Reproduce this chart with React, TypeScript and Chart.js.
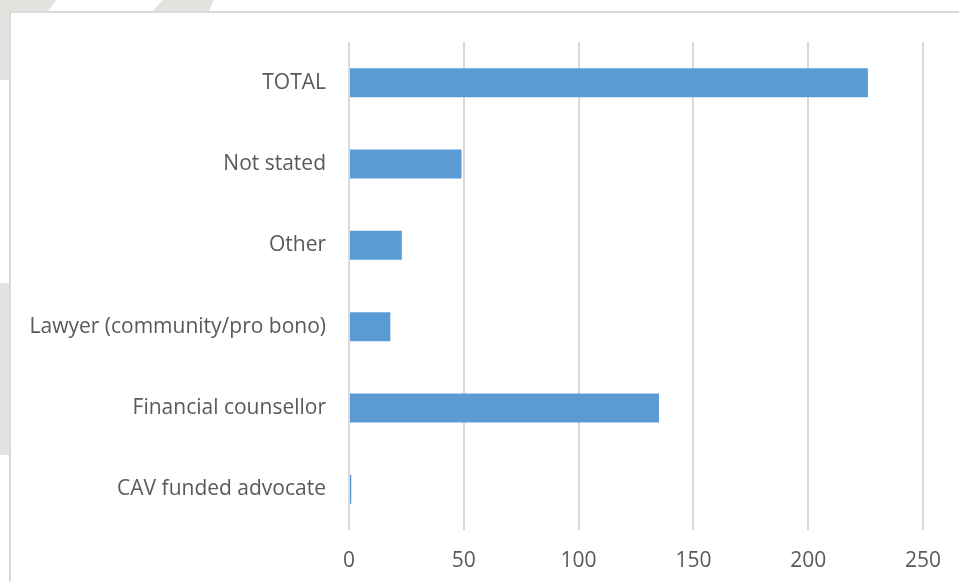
import React, { useEffect, useRef } from "react";
import { Chart, registerables } from "chart.js";

Chart.register(...registerables);

const categories = [
  "TOTAL",
  "Not stated",
  "Other",
  "Lawyer (community/pro bono)",
  "Financial counsellor",
  "CAV funded advocate",
];
const values = [226, 49, 23, 18, 135, 1];
const xTickMin = 0;
const xTickMax = 250;
const xTickStep = 50;

const WM = "#e2e2de";

export default function App() {
  const ref = useRef<HTMLCanvasElement | null>(null);

  useEffect(() => {
    document.body.style.margin = "0";
    const canvas = ref.current;
    if (!canvas) return;
    const chart = new Chart(canvas, {
      type: "bar",
      data: {
        labels: categories,
        datasets: [
          {
            data: values,
            backgroundColor: "#5B9BD5",
            borderWidth: 0,
            categoryPercentage: 1,
            barPercentage: 0.356,
          },
        ],
      },
      options: {
        indexAxis: "y",
        animation: false,
        responsive: false,
        layout: { padding: { top: 42, right: 35, bottom: 0, left: 0 } },
        plugins: {
          legend: { display: false },
          tooltip: { enabled: false },
          title: { display: false },
        },
        scales: {
          x: {
            min: xTickMin,
            max: xTickMax,
            ticks: {
              stepSize: xTickStep,
              padding: 18,
              color: "#595959",
              font: { family: "'Open Sans'", size: 21 },
            },
            grid: { color: "#d9d9d9", lineWidth: 2, drawTicks: false },
            border: { display: false },
            afterFit: (scale: any) => {
              scale.height = 52;
            },
          },
          y: {
            ticks: {
              padding: 23,
              color: "#595959",
              font: { family: "'Open Sans'", size: 21 },
            },
            grid: { display: false, drawTicks: false },
            border: { display: false },
            afterFit: (scale: any) => {
              scale.width = 349;
            },
          },
        },
      },
    });
    return () => chart.destroy();
  }, []);

  return (
    <div
      style={{
        position: "fixed",
        left: 0,
        top: 0,
        width: 959,
        height: 582,
        overflow: "hidden",
        background: "#ffffff",
      }}
    >
      <div
        style={{
          position: "absolute",
          left: 0,
          top: 0,
          width: 56,
          height: 14,
          background: WM,
          clipPath: "polygon(0 0, 100% 0, 82% 100%, 0 100%)",
        }}
      />
      <div
        style={{
          position: "absolute",
          left: 150,
          top: 0,
          width: 64,
          height: 14,
          background: WM,
          clipPath: "polygon(20% 0, 100% 0, 90% 100%, 0 100%)",
        }}
      />
      <div
        style={{
          position: "absolute",
          left: 0,
          top: 0,
          width: 12,
          height: 80,
          background: WM,
        }}
      />
      <div
        style={{
          position: "absolute",
          left: 0,
          top: 283,
          width: 12,
          height: 172,
          background: WM,
        }}
      />
      <div
        style={{
          position: "absolute",
          left: 9,
          top: 11,
          width: 1000,
          height: 700,
          border: "2px solid #d9d9d9",
          background: "#ffffff",
          boxSizing: "border-box",
        }}
      />
      <canvas
        ref={ref}
        width={959}
        height={582}
        style={{ position: "absolute", left: 0, top: 0, width: 959, height: 582 }}
      />
    </div>
  );
}
